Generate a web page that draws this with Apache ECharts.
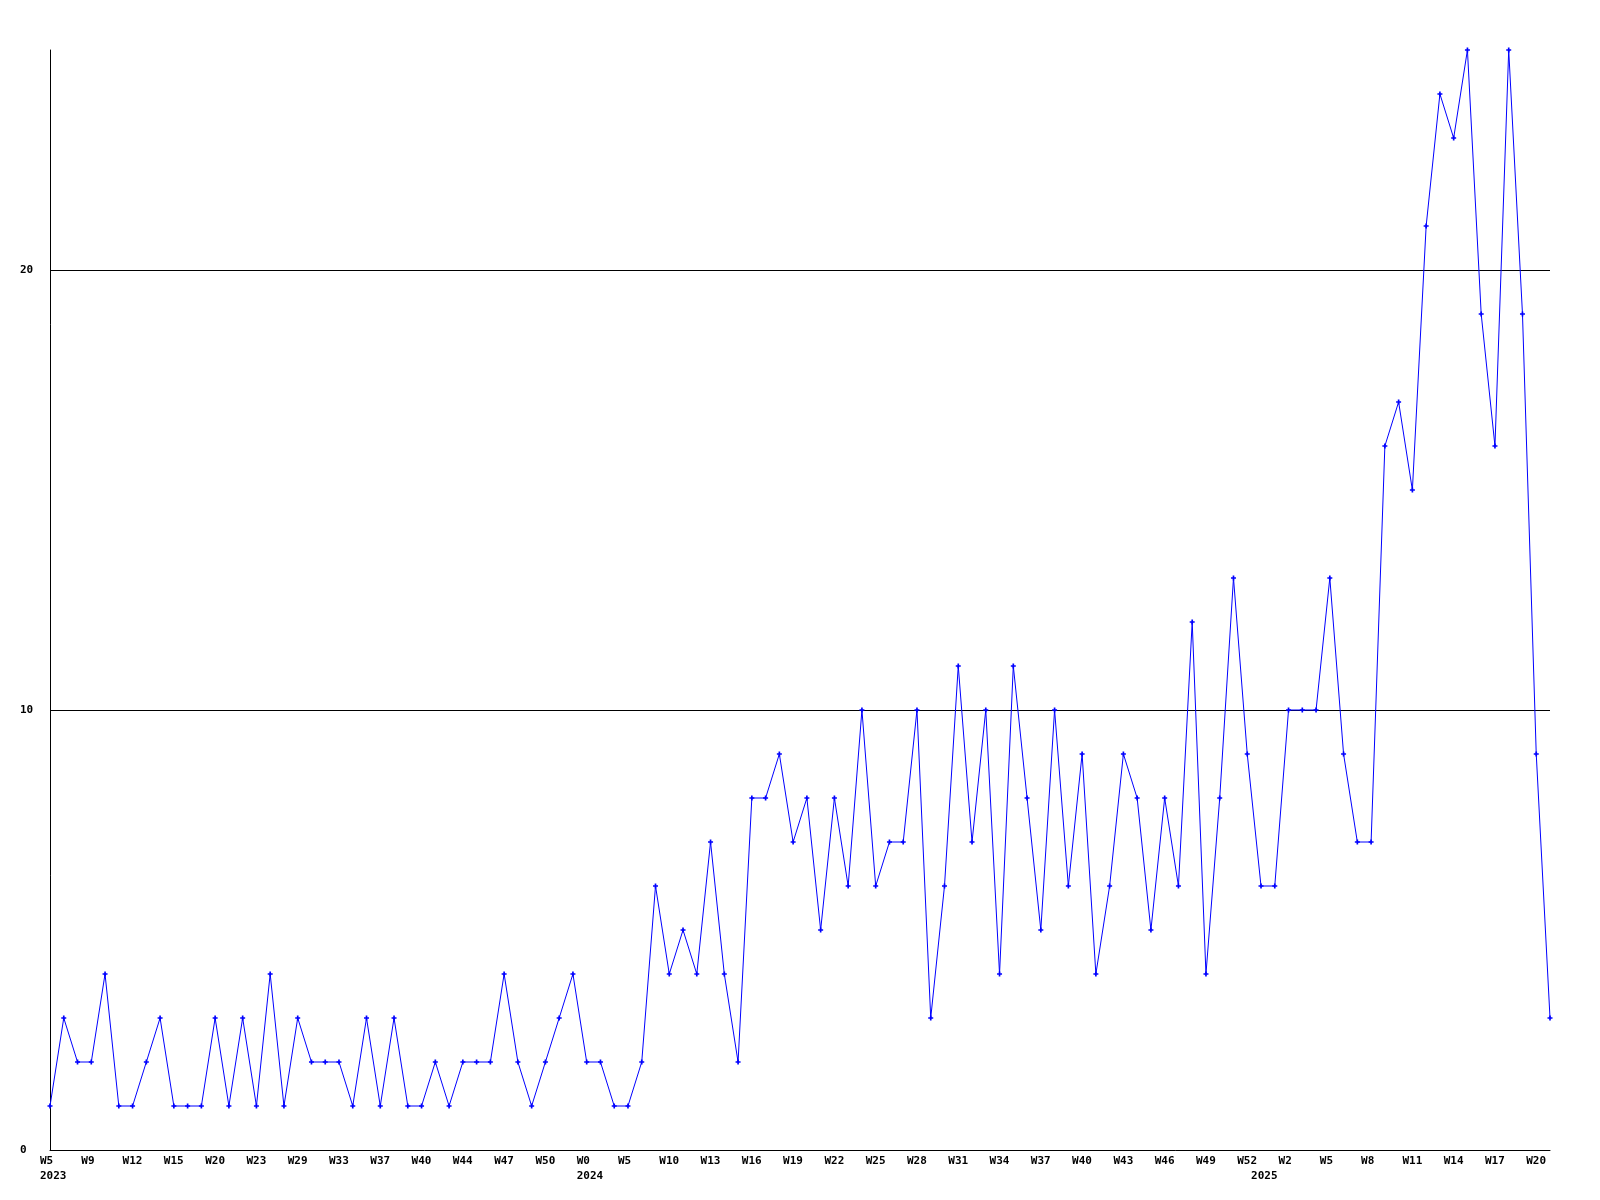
<!DOCTYPE html>
<html>
<head>
<meta charset="utf-8">
<script src="https://cdn.jsdelivr.net/npm/echarts@6/dist/echarts.min.js"></script>
<style>html,body{margin:0;padding:0;background:#fff;}#c{width:1600px;height:1200px;}</style>
</head>
<body>
<div id="c"></div>
<script>
// Week categories (year-week), one per point
const years = [
  2023,2023,2023,2023,2023,2023,2023,2023,2023,2023,2023,2023,2023,2023,2023,2023,2023,2023,2023,2023,
  2023,2023,2023,2023,2023,2023,2023,2023,2023,2023,2023,2023,2023,2023,2023,2023,2023,2023,2023,
  2024,2024,2024,2024,2024,2024,2024,2024,2024,2024,2024,2024,2024,2024,2024,2024,2024,2024,2024,2024,
  2024,2024,2024,2024,2024,2024,2024,2024,2024,2024,2024,2024,2024,2024,2024,2024,2024,2024,2024,2024,
  2024,2024,2024,2024,2024,2024,2024,2024,2024,
  2025,2025,2025,2025,2025,2025,2025,2025,2025,2025,2025,2025,2025,2025,2025,2025,2025,2025,2025,2025,2025,2025
];
const weeks = [
  5,6,7,9,10,11,12,13,14,15,17,18,20,21,22,23,25,27,29,30,
  31,33,34,35,37,38,39,40,41,42,44,45,46,47,48,49,50,51,52,
  0,2,3,5,7,8,10,11,12,13,14,15,16,17,18,19,20,21,22,23,
  24,25,26,27,28,29,30,31,32,33,34,35,36,37,38,39,40,41,42,43,
  44,45,46,47,48,49,50,51,52,
  0,1,2,3,4,5,6,7,8,9,10,11,12,13,14,15,16,17,18,19,20,21
];
// Weekly counts
const counts = [
  1,3,2,2,4,1,1,2,3,1,1,1,3,1,3,1,4,1,3,2,
  2,2,1,3,1,3,1,1,2,1,2,2,2,4,2,1,2,3,4,2,
  2,1,1,2,6,4,5,4,7,4,2,8,8,9,7,8,5,8,6,10,
  6,7,7,10,3,6,11,7,10,4,11,8,5,10,6,9,4,6,9,8,
  5,8,6,12,4,8,13,9,6,6,10,10,10,13,9,7,7,16,17,15,
  21,24,23,25,19,16,25,19,9,3
];
// Y axis ticks
const yTicks = [0, 10, 20];
const yMax = 25;
// Indices where the year is printed under the week label
const yearLabelIdx = [0, 39, 88];

const categories = years.map((y, i) => y + '-W' + weeks[i]);

const chart = echarts.init(document.getElementById('c'), null, {renderer: 'canvas'});
const labelFont = {fontFamily: 'DejaVu Sans Mono', fontSize: 11, fontWeight: 'bold', color: '#000'};
const plus = 'path://M2,0H4V2H6V4H4V6H2V4H0V2H2Z';

chart.setOption({
  animation: false,
  backgroundColor: '#fff',
  grid: {left: 50, right: 50, top: 50, bottom: 50, containLabel: false},
  xAxis: [
    {
      type: 'category', data: categories, boundaryGap: false,
      axisLine: {show: true, lineStyle: {color: '#000', width: 1}},
      axisTick: {show: false},
      splitLine: {show: false},
      axisLabel: Object.assign({
        interval: 2, margin: 6, align: 'left', padding: [0, 0, 0, -10],
        formatter: (v) => v.split('-')[1]
      }, labelFont)
    },
    {
      type: 'category', data: categories, boundaryGap: false, position: 'bottom', offset: 15,
      axisLine: {show: false}, axisTick: {show: false}, splitLine: {show: false},
      axisLabel: Object.assign({
        interval: (idx) => yearLabelIdx.indexOf(idx) >= 0, margin: 6, align: 'left', padding: [0, 0, 0, -10],
        formatter: (v) => v.split('-')[0]
      }, labelFont)
    }
  ],
  yAxis: {
    type: 'value', min: yTicks[0], max: yMax, interval: yTicks[1] - yTicks[0],
    axisLine: {show: true, lineStyle: {color: '#000', width: 1}},
    axisTick: {show: false},
    axisLabel: Object.assign({margin: 30, align: 'left', showMaxLabel: false}, labelFont),
    splitLine: {show: true, showMinLine: false, showMaxLine: false, lineStyle: {color: '#000', width: 1}}
  },
  series: [{
    type: 'line', data: counts, xAxisIndex: 0,
    symbol: plus, symbolSize: 5, showAllSymbol: true,
    lineStyle: {color: '#0000ff', width: 1},
    itemStyle: {color: '#0000ff'},
    emphasis: {disabled: true}
  }]
});
</script>
</body>
</html>
